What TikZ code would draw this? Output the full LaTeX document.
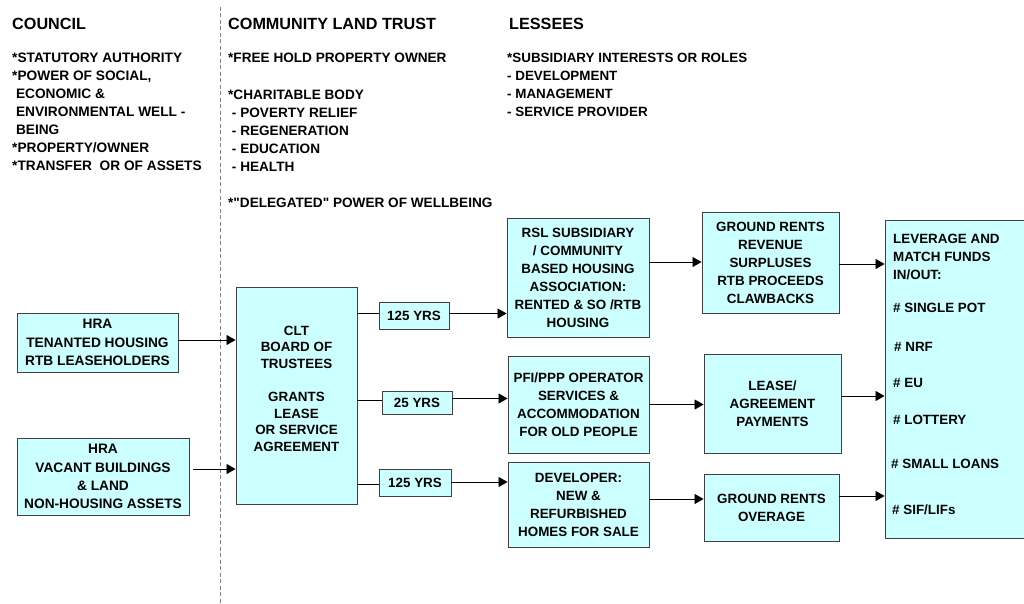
\documentclass[tikz,border=0pt]{standalone}
\usepackage{fontspec}
\setmainfont{Liberation Sans Bold}[Ligatures=TeXOff]
\usetikzlibrary{arrows.meta,calc}
\definecolor{boxfill}{HTML}{CCFFFF}
\definecolor{boxline}{HTML}{404040}
\begin{document}
\begin{tikzpicture}[x=1pt,y=-1pt,
  every node/.style={font=\fontsize{13.4}{18}\selectfont, inner sep=0pt},
  box/.style={draw=boxline, line width=0.9pt, fill=boxfill, align=center},
  col/.style={anchor=north west, align=left},
  head/.style={anchor=west, font=\fontsize{16.2}{18}\selectfont},
  link/.style={draw=black, line width=0.8pt},
  arr/.style={link, -{Triangle[length=9pt,width=10pt]}}]
\useasboundingbox (0,0) rectangle (1024,604);
\clip (0,0) rectangle (1024,604);

% divider between council and trust columns
\draw[gray, line width=0.7pt, dash pattern=on 4pt off 2.5pt] (220,7) -- (220,604);

% column headings
\node[head] (hc) at (12,24) {COUNCIL};
\node[head] (ht) at (228,24) {COMMUNITY LAND TRUST};
\node[head] (hl) at (509,24) {LESSEES};

% column notes
\node[col, font=\fontsize{13.7}{18}\selectfont] (nc) at (12,53) {*STATUTORY AUTHORITY\\*POWER OF SOCIAL,\\\ ECONOMIC \&\\\ ENVIRONMENTAL WELL -\\\ BEING\\*PROPERTY/OWNER\\*TRANSFER\ \ OR OF ASSETS};
\node[col, font=\fontsize{13.6}{18}\selectfont] (nt1) at (228,53) {*FREE HOLD PROPERTY OWNER};
\node[col, font=\fontsize{13.6}{18}\selectfont] (nt2) at (228,90) {*CHARITABLE BODY\\\ - POVERTY RELIEF\\\ - REGENERATION\\\ - EDUCATION\\\ - HEALTH};
\node[col, font=\fontsize{13.6}{18}\selectfont] (nt3) at (228,198) {*"DELEGATED" POWER OF WELLBEING};
\node[col] (nl) at (507,53) {*SUBSIDIARY INTERESTS OR ROLES\\- DEVELOPMENT\\- MANAGEMENT\\- SERVICE PROVIDER};

% council assets
\node[box, minimum width=161pt, minimum height=59pt, font=\fontsize{13.7}{18.3}\selectfont] (hra1) at (97.5,342.5)
  {HRA\\TENANTED HOUSING\\RTB LEASEHOLDERS};
\node[box, minimum width=172pt, minimum height=77pt, font=\fontsize{13.7}{18.3}\selectfont] (hra2) at (103,476.5)
  {HRA\\VACANT BUILDINGS\\\& LAND\\NON-HOUSING ASSETS};

% trust board
\node[box, minimum width=121pt, minimum height=217pt] (clt) at (296.5,395.5) {};
\node[align=center, font=\fontsize{13.4}{16.6}\selectfont] (cltt) at (296.5,388.5)
  {CLT\\BOARD OF\\TRUSTEES\\[16.6pt]GRANTS\\LEASE\\OR SERVICE\\AGREEMENT};

% lease terms
\node[box, minimum width=70pt, minimum height=27pt] (y1) at (414,315.5) {125 YRS};
\node[box, minimum width=70pt, minimum height=23pt] (y2) at (417,402.5) {25 YRS};
\node[box, minimum width=72pt, minimum height=27pt] (y3) at (415,482.5) {125 YRS};

% lessees
\node[box, minimum width=142pt, minimum height=119pt] (rsl) at (578,277.5)
  {RSL SUBSIDIARY\\/ COMMUNITY\\BASED HOUSING\\ASSOCIATION:\\RENTED \& SO /RTB\\HOUSING};
\node[box, minimum width=141pt, minimum height=97pt] (pfi) at (578.5,404.5)
  {PFI/PPP OPERATOR\\SERVICES \&\\ACCOMMODATION\\FOR OLD PEOPLE};
\node[box, minimum width=141pt, minimum height=85pt] (dev) at (578.5,504.5)
  {DEVELOPER:\\NEW \&\\REFURBISHED\\HOMES FOR SALE};

% income streams
\node[box, minimum width=137pt, minimum height=101pt] (gr1) at (770.5,262.5)
  {GROUND RENTS\\REVENUE\\SURPLUSES\\RTB PROCEEDS\\CLAWBACKS};
\node[box, minimum width=137pt, minimum height=99pt] (lease) at (772.5,403.5)
  {LEASE/\\AGREEMENT\\PAYMENTS};
\node[box, minimum width=135pt, minimum height=67pt] (gr2) at (771.5,507.5)
  {GROUND RENTS\\OVERAGE};

% funding box
\node[box, minimum width=160pt, minimum height=318pt] (lev) at (965,379) {};
\node[anchor=west, align=left] (lev0) at (893,257) {LEVERAGE AND\\MATCH FUNDS\\IN/OUT:};
\node[anchor=west] (lev1) at (893,307.5) {\# SINGLE POT};
\node[anchor=west] (lev2) at (894,347) {\# NRF};
\node[anchor=west] (lev3) at (893,383) {\# EU};
\node[anchor=west] (lev4) at (893,419.5) {\# LOTTERY};
\node[anchor=west] (lev5) at (891,463.5) {\# SMALL LOANS};
\node[anchor=west] (lev6) at (892,509.5) {\# SIF/LIFs};

% council to trust
\draw[arr] ($(hra1.east)+(0,-2.5)$) -- ($(clt.west |- hra1.east)+(0,-2.5)$);
\draw[arr] ($(hra2.east)+(4,-7.5)$) -- ($(clt.west |- hra2.east)+(0,-7.5)$);

% trust to lessees through lease terms
\draw[link] (clt.east |- y1.west) ++(0,-2.5) -- ($(y1.west)+(0,-2.5)$);
\draw[arr] ($(y1.east)+(0,-2)$) -- ($(y1.east -| rsl.west)+(0,-2)$);
\draw[link] (clt.east |- y2.west) ++(0,-2.5) -- ($(y2.west)+(0,-2.5)$);
\draw[arr] ($(y2.east)+(0,-4)$) -- ($(y2.east -| pfi.west)+(0,-4)$);
\draw[link] (clt.east |- y3.west) ++(0,1.5) -- ($(y3.west)+(0,1.5)$);
\draw[arr] ($(y3.east)+(0,-0.5)$) -- ($(y3.east -| dev.west)+(0,-0.5)$);

% lessees to income streams
\draw[arr] ($(rsl.east)+(0,-15.5)$) -- ($(rsl.east -| gr1.west)+(0,-15.5)$);
\draw[arr] (pfi.east) -- (pfi.east -| lease.west);
\draw[arr] ($(dev.east)+(0,-5.5)$) -- ($(dev.east -| gr2.west)+(0,-5.5)$);

% income streams to funding
\draw[arr] ($(gr1.east)+(0,1.5)$) -- ($(gr1.east -| lev.west)+(0,1.5)$);
\draw[arr] ($(lease.east)+(0,-7.5)$) -- ($(lease.east -| lev.west)+(0,-7.5)$);
\draw[arr] ($(gr2.east)+(0,-11.5)$) -- ($(gr2.east -| lev.west)+(0,-11.5)$);
\end{tikzpicture}
\end{document}
